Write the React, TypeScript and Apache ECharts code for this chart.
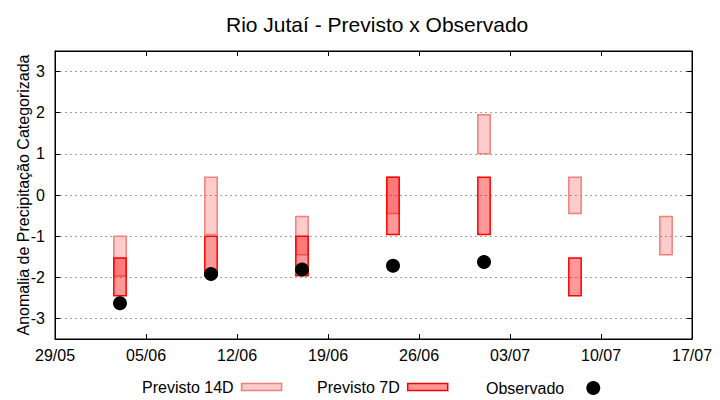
import React, { useEffect, useRef } from "react";
import * as echarts from "echarts";

const titleText = "Rio Jutaí - Previsto x Observado";
const yAxisName = "Anomalia de Precipitação Categorizada";
const startDate = "2023-05-29";
const xTickLabels = ["29/05", "05/06", "12/06", "19/06", "26/06", "03/07", "10/07", "17/07"];
const forecastDates = ["2023-06-03", "2023-06-10", "2023-06-17", "2023-06-24", "2023-07-01", "2023-07-08", "2023-07-15"];
const prev14Low = [-1.97, -0.96, -1.45, -0.45, 1.0, -0.45, -1.45];
const prev14High = [-1.0, 0.43, -0.52, 0.43, 1.95, 0.43, -0.52];
const prev7Low = [-2.45, -1.96, -1.96, -0.96, -0.96, -2.45, null];
const prev7High = [-1.53, -1.0, -1.0, 0.43, 0.43, -1.53, null];
const observed = [-2.63, -1.92, -1.81, -1.72, -1.63, null, null];

const DAY = 86400000;
const dayOffset = (d: string) =>
  Math.round((Date.parse(d + "T00:00:00Z") - Date.parse(startDate + "T00:00:00Z")) / DAY);

const FONT = "Liberation Sans";

function rangeRender(fill: string, stroke: string) {
  return (params: any, api: any) => {
    const x = api.value(0);
    const lo = api.value(1);
    const hi = api.value(2);
    const p1 = api.coord([x, hi]);
    const p2 = api.coord([x, lo]);
    const w = api.size([1, 0])[0] * 0.95;
    return {
      type: "rect",
      shape: { x: p1[0] - w / 2, y: p1[1], width: w, height: p2[1] - p1[1] },
      style: { fill, stroke, lineWidth: 1.5 },
    };
  };
}

export default function App() {
  const ref = useRef<HTMLDivElement>(null);
  useEffect(() => {
    if (!ref.current) return;
    const chart = echarts.init(ref.current, undefined, { renderer: "svg" });
    const xs = forecastDates.map(dayOffset);
    const d14 = xs.map((x, i) => [x, prev14Low[i], prev14High[i]]);
    const d7 = xs
      .map((x, i) => [x, prev7Low[i], prev7High[i]])
      .filter((r) => r[1] !== null && r[2] !== null);
    const dObs = xs
      .map((x, i) => [x, observed[i]])
      .filter((r) => r[1] !== null);
    const maxDay = (xTickLabels.length - 1) * 7;

    const fill14 = "rgba(255,0,0,0.2)";
    const stroke14 = "#f08078";
    const fill7 = "rgba(255,0,0,0.4)";
    const stroke7 = "#ff0000";

    const xAxisCommon = {
      type: "value",
      min: 0,
      max: maxDay,
      interval: 7,
      axisLine: { show: true, onZero: false, lineStyle: { color: "#000", width: 1 } },
      axisTick: { show: true, inside: true, length: 5, lineStyle: { color: "#000" } },
      splitLine: { show: false },
    };
    const yAxisCommon = {
      type: "value",
      min: -3.5,
      max: 3.5,
      splitNumber: 7,
      minInterval: 1,
      maxInterval: 1,
      axisLine: { show: true, onZero: false, lineStyle: { color: "#000", width: 1 } },
      axisTick: { show: true, inside: true, length: 5, lineStyle: { color: "#000" } },
    };

    const legendText = { fontFamily: FONT, fontSize: 16, color: "#000", padding: [0, 3, 0, 0] };

    chart.setOption({
      animation: false,
      backgroundColor: "#fff",
      title: {
        text: titleText,
        left: 221,
        top: 9,
        textStyle: { fontFamily: FONT, fontSize: 21, fontWeight: "normal", color: "#000" },
      },
      grid: {
        left: 55,
        right: 28,
        top: 51,
        bottom: 61,
        show: true,
        borderColor: "#000",
        borderWidth: 1,
        containLabel: false,
      },
      xAxis: [
        {
          ...xAxisCommon,
          position: "bottom",
          axisLabel: {
            show: true,
            margin: 8,
            fontFamily: FONT,
            fontSize: 16,
            color: "#000",
            formatter: (v: number) => xTickLabels[Math.round(v / 7)] ?? "",
          },
        },
        {
          ...xAxisCommon,
          position: "top",
          axisLabel: { show: false },
        },
      ],
      yAxis: [
        {
          ...yAxisCommon,
          position: "left",
          name: yAxisName,
          nameLocation: "middle",
          nameGap: 24,
          nameMoveOverlap: false,
          nameTextStyle: { fontFamily: FONT, fontSize: 16, color: "#000" },
          axisLabel: {
            show: true,
            margin: 10,
            fontFamily: FONT,
            fontSize: 16,
            color: "#000",
            formatter: (v: number) => (Math.abs(v) > 3.2 ? "" : String(v)),
          },
          splitLine: {
            show: true,
            lineStyle: { color: "#a0a0a0", type: [2, 3], width: 1 },
          },
        },
        {
          ...yAxisCommon,
          position: "right",
          axisLabel: { show: false },
          splitLine: { show: false },
        },
      ],
      legend: [
        {
          data: [
            {
              name: "Previsto 14D",
              icon: "rect",
              itemStyle: { color: fill14, borderColor: stroke14, borderWidth: 1.5 },
            },
          ],
          left: 142,
          top: 379,
          align: "right",
          itemWidth: 40,
          itemHeight: 7,
          padding: 0,
          textStyle: legendText,
          selectedMode: false,
        },
        {
          data: [
            {
              name: "Previsto 7D",
              icon: "rect",
              itemStyle: { color: fill7, borderColor: stroke7, borderWidth: 1.5 },
            },
          ],
          left: 317,
          top: 379,
          align: "right",
          itemWidth: 40,
          itemHeight: 7,
          padding: 0,
          textStyle: legendText,
          selectedMode: false,
        },
        {
          data: [{ name: "Observado", icon: "circle", itemStyle: { color: "#000" } }],
          left: 486,
          top: 380,
          align: "right",
          itemWidth: 14,
          itemHeight: 14,
          padding: 0,
          textStyle: { ...legendText, padding: [0, 17, 0, 0] },
          selectedMode: false,
        },
      ],
      series: [
        {
          name: "Previsto 14D",
          type: "custom",
          xAxisIndex: 0,
          yAxisIndex: 0,
          renderItem: rangeRender(fill14, stroke14),
          encode: { x: 0, y: [1, 2] },
          itemStyle: { color: fill14, borderColor: stroke14 },
          data: d14,
          z: 2,
        },
        {
          name: "Previsto 7D",
          type: "custom",
          xAxisIndex: 0,
          yAxisIndex: 0,
          renderItem: rangeRender(fill7, stroke7),
          encode: { x: 0, y: [1, 2] },
          itemStyle: { color: fill7, borderColor: stroke7 },
          data: d7,
          z: 3,
        },
        {
          name: "Observado",
          type: "scatter",
          xAxisIndex: 0,
          yAxisIndex: 0,
          symbol: "circle",
          symbolSize: 14,
          itemStyle: { color: "#000", opacity: 1 },
          data: dObs,
          z: 4,
        },
      ],
    });
    return () => chart.dispose();
  }, []);
  return (
    <div
      ref={ref}
      style={{ position: "fixed", left: 0, top: 0, width: 720, height: 400 }}
    />
  );
}
